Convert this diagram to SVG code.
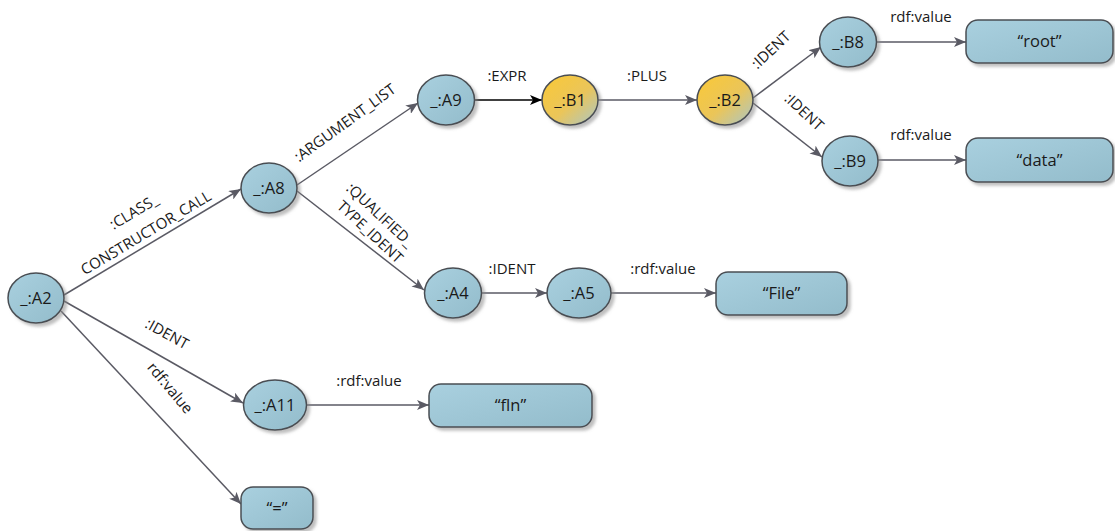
<svg xmlns="http://www.w3.org/2000/svg" width="1115" height="531" viewBox="0 0 1115 531">
<defs>
<linearGradient id="gBlue" x1="0" y1="0" x2="1" y2="1">
<stop offset="0" stop-color="#a9d0df"/>
<stop offset="1" stop-color="#93bccb"/>
</linearGradient>
<linearGradient id="gYellow" x1="0" y1="0" x2="1" y2="1">
<stop offset="0" stop-color="#fbc935"/>
<stop offset="0.55" stop-color="#eac55a"/>
<stop offset="1" stop-color="#a9c7c9"/>
</linearGradient>
<filter id="sh" x="-20%" y="-20%" width="150%" height="150%">
<feDropShadow dx="3" dy="3" stdDeviation="1.5" flood-color="#8a8a8a" flood-opacity="0.55"/>
</filter>
<marker id="arr" viewBox="0 0 12 10" refX="12" refY="5" markerWidth="12" markerHeight="10" markerUnits="userSpaceOnUse" orient="auto">
<path d="M0,0 L12,5 L0,10 L3,5 z" fill="#5a5a64"/>
</marker>
<marker id="arrB" viewBox="0 0 12 10" refX="12" refY="5" markerWidth="12" markerHeight="10" markerUnits="userSpaceOnUse" orient="auto">
<path d="M0,0 L12,5 L0,10 L3,5 z" fill="#000"/>
</marker>
</defs>
<style>
.n{fill:url(#gBlue);stroke:#4a4e53;stroke-width:1.5;filter:url(#sh)}
.y{fill:url(#gYellow);stroke:#4a4e53;stroke-width:1.5;filter:url(#sh)}
.t{font-family:"Open Sans","Liberation Sans",sans-serif;font-size:16.5px;fill:#1a1a1a;text-anchor:middle}
.e{stroke:#5a5a64;stroke-width:1.5;fill:none;marker-end:url(#arr)}
.eb{stroke:#000;stroke-width:1.5;fill:none;marker-end:url(#arrB)}
.l{font-family:"Open Sans","Liberation Sans",sans-serif;font-size:15px;fill:#1a1a1a;text-anchor:middle}
</style>
<rect width="1115" height="531" fill="#fff"/>
<g id="connectors">
<line class="e" x1="64" y1="295" x2="241" y2="189"/>
<line class="e" x1="297" y1="185" x2="418" y2="103"/>
<line class="e" x1="297" y1="191" x2="424" y2="290"/>
<line class="eb" x1="475" y1="100" x2="542" y2="100"/>
<line class="e" x1="598" y1="100" x2="697" y2="100"/>
<line class="e" x1="753" y1="98" x2="821" y2="47"/>
<line class="e" x1="753" y1="103" x2="822" y2="157"/>
<line class="e" x1="877" y1="42" x2="966" y2="42"/>
<line class="e" x1="878" y1="160" x2="966" y2="160"/>
<line class="e" x1="482" y1="293" x2="547" y2="293"/>
<line class="e" x1="611" y1="293" x2="716" y2="293"/>
<line class="e" x1="64" y1="301" x2="243" y2="403"/>
<line class="e" x1="307" y1="405" x2="429" y2="405"/>
<line class="e" x1="61" y1="311" x2="241" y2="504"/>
<text class="l" transform="translate(134,212) rotate(-31)" y="5">:CLASS_</text>
<text class="l" transform="translate(146,233) rotate(-31)" y="5">CONSTRUCTOR_CALL</text>
<text class="l" transform="translate(345,123) rotate(-36)" y="5">:ARGUMENT_LIST</text>
<text class="l" transform="translate(380,215) rotate(43)" y="5">:QUALIFIED_</text>
<text class="l" transform="translate(370,232) rotate(43)" y="5">TYPE_IDENT</text>
<text class="l" x="507" y="81">:EXPR</text>
<text class="l" x="647" y="81">:PLUS</text>
<text class="l" transform="translate(771,50) rotate(-43)" y="5">:IDENT</text>
<text class="l" transform="translate(804,112) rotate(43)" y="5">:IDENT</text>
<text class="l" x="921" y="22">rdf:value</text>
<text class="l" x="921" y="140">rdf:value</text>
<text class="l" x="512" y="274">:IDENT</text>
<text class="l" x="663" y="274">:rdf:value</text>
<text class="l" transform="translate(167,334) rotate(29)" y="5">:IDENT</text>
<text class="l" transform="translate(170,388) rotate(50)" y="5">rdf:value</text>
<text class="l" x="369" y="386">:rdf:value</text>
</g>
<g id="A2"><ellipse class="n" cx="36" cy="298" rx="28" ry="25"/><text class="t" x="36" y="304">_:A2</text></g>
<g id="A8"><ellipse class="n" cx="269" cy="188" rx="28" ry="25"/><text class="t" x="269" y="194">_:A8</text></g>
<g id="A9"><ellipse class="n" cx="446" cy="100" rx="28.5" ry="25"/><text class="t" x="446" y="106">_:A9</text></g>
<g id="B1"><ellipse class="y" cx="570" cy="100" rx="28" ry="25"/><text class="t" x="570" y="106">_:B1</text></g>
<g id="B2"><ellipse class="y" cx="725" cy="100" rx="28" ry="25"/><text class="t" x="725" y="106">_:B2</text></g>
<g id="B8"><ellipse class="n" cx="848" cy="42" rx="28.5" ry="25"/><text class="t" x="848" y="48">_:B8</text></g>
<g id="B9"><ellipse class="n" cx="850" cy="161" rx="28" ry="25"/><text class="t" x="850" y="167">_:B9</text></g>
<g id="A4"><ellipse class="n" cx="453" cy="293" rx="28.5" ry="25"/><text class="t" x="453" y="299">_:A4</text></g>
<g id="A5"><ellipse class="n" cx="579" cy="293" rx="32" ry="25"/><text class="t" x="579" y="299">_:A5</text></g>
<g id="A11"><ellipse class="n" cx="275" cy="405" rx="31.5" ry="25"/><text class="t" x="275" y="411">_:A11</text></g>
<g id="root"><rect class="n" x="966" y="20" width="147" height="43" rx="12"/><text class="t" x="1039.5" y="47">“root”</text></g>
<g id="data"><rect class="n" x="966" y="138" width="147" height="44" rx="12"/><text class="t" x="1039.5" y="166">“data”</text></g>
<g id="File"><rect class="n" x="716" y="272" width="131" height="43" rx="12"/><text class="t" x="781.5" y="299">“File”</text></g>
<g id="fln"><rect class="n" x="429" y="384" width="163" height="43" rx="12"/><text class="t" x="510.5" y="411">“fln”</text></g>
<g id="eq"><rect class="n" x="241" y="487" width="72" height="42" rx="12"/><text class="t" x="277" y="514">“=”</text></g>
</svg>
